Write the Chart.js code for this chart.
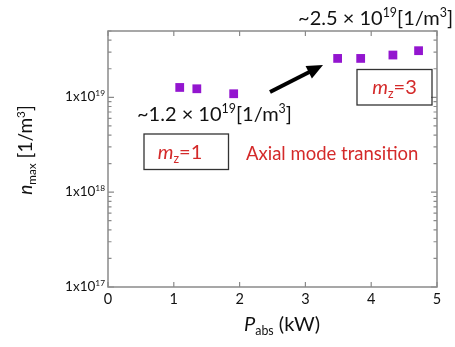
<!DOCTYPE html>
<html>
<head>
<meta charset="utf-8">
<script src="https://cdn.jsdelivr.net/npm/chart.js@4.4.0/dist/chart.umd.min.js"></script>
<style>
  html, body { margin: 0; padding: 0; background: #fff; }
  #wrap { width: 455px; height: 347px; }
</style>
</head>
<body>
<div id="wrap"><canvas id="chart" width="455" height="347"></canvas></div>
<script>
// absorbed power (kW) and peak density (1/m^3)
const power = [1.09, 1.35, 1.91, 3.49, 3.84, 4.33, 4.72];
const density = [1.27e19, 1.23e19, 1.09e19, 2.57e19, 2.57e19, 2.79e19, 3.1e19];
const xTicks = [0, 1, 2, 3, 4, 5];
const yExponents = [17, 18, 19];

const FONT = 'Lato, "Open Sans", sans-serif';
const RED = '#d42a2a';
const FRAME = '#8a8a8a';

// text with super/subscript pieces: [text, style] where style is '', 'i', 'sup', 'sub'
function richText(ctx, parts, x, y, size, align) {
    const widths = parts.map(p => {
        const s = (p[1] === 'sup' || p[1] === 'sub') ? size * 0.62 : size;
        ctx.font = `${p[1] === 'i' ? 'italic ' : ''}${s}px ${FONT}`;
        return ctx.measureText(p[0]).width;
    });
    const total = widths.reduce((a, b) => a + b, 0);
    let cx = align === 'right' ? x - total : align === 'center' ? x - total / 2 : x;
    parts.forEach((p, i) => {
        const small = p[1] === 'sup' || p[1] === 'sub';
        const s = small ? size * 0.62 : size;
        ctx.font = `${p[1] === 'i' ? 'italic ' : ''}${s}px ${FONT}`;
        let dy = 0;
        if (p[1] === 'sup') dy = -size * 0.38;
        if (p[1] === 'sub') dy = size * 0.22;
        ctx.fillText(p[0], cx, y + dy);
        cx += widths[i];
    });
}

const decorations = {
    id: 'decorations',
    afterDraw(chart) {
        const { ctx, chartArea: a, scales } = chart;
        const xs = scales.x, ys = scales.y;
        ctx.save();
        ctx.textBaseline = 'alphabetic';
        ctx.fillStyle = '#111';

        // frame
        ctx.strokeStyle = FRAME;
        ctx.lineWidth = 1.5;
        ctx.strokeRect(a.left, a.top, a.right - a.left, a.bottom - a.top);

        // x ticks top and bottom
        ctx.lineWidth = 1.2;
        xTicks.forEach(v => {
            const px = xs.getPixelForValue(v);
            ctx.beginPath();
            ctx.moveTo(px, a.bottom); ctx.lineTo(px, a.bottom - 5);
            ctx.moveTo(px, a.top); ctx.lineTo(px, a.top + 5);
            ctx.stroke();
        });

        // y ticks, majors and minors, both sides
        for (let e = 17; e <= 19; e++) {
            for (let m = 1; m <= 9; m++) {
                const v = m * Math.pow(10, e);
                if (v > ys.max * 1.0001) continue;
                const py = ys.getPixelForValue(v);
                const len = m === 1 ? 6 : 3.5;
                ctx.beginPath();
                ctx.moveTo(a.left, py); ctx.lineTo(a.left + len, py);
                ctx.moveTo(a.right, py); ctx.lineTo(a.right - len, py);
                ctx.stroke();
            }
        }

        // x tick labels
        ctx.fillStyle = '#111';
        ctx.font = `14.5px ${FONT}`;
        ctx.textAlign = 'center';
        xTicks.forEach(v => {
            ctx.fillText(String(v), xs.getPixelForValue(v), a.bottom + 17);
        });

        // y tick labels
        ctx.textAlign = 'left';
        yExponents.forEach(e => {
            const py = ys.getPixelForValue(Math.pow(10, e));
            richText(ctx, [['1x10', ''], [String(e), 'sup']], a.left - 3, py + 4, 13.5, 'right');
        });

        // axis titles
        richText(ctx, [['P', 'i'], ['abs', 'sub'], [' (kW)', '']], 282, 331, 20, 'center');
        ctx.save();
        ctx.translate(32, 150);
        ctx.rotate(-Math.PI / 2);
        richText(ctx, [['n', 'i'], ['max', 'sub'], [' [1/m', ''], ['3', 'sup'], [']', '']], 0, 0, 19, 'center');
        ctx.restore();

        // density annotations
        richText(ctx, [['~2.5 \u00d7 10', ''], ['19', 'sup'], ['[1/m', ''], ['3', 'sup'], [']', '']], 453, 25, 20, 'right');
        richText(ctx, [['~1.2 \u00d7 10', ''], ['19', 'sup'], ['[1/m', ''], ['3', 'sup'], [']', '']], 137, 121, 20, 'left');

        // mode boxes
        ctx.strokeStyle = '#333';
        ctx.lineWidth = 1.3;
        ctx.strokeRect(357, 69.5, 75, 35.5);
        ctx.strokeRect(144, 134, 84.5, 35.5);
        ctx.fillStyle = RED;
        richText(ctx, [['m', 'i'], ['z', 'sub'], ['=3', '']], 394.5, 94, 20, 'center');
        richText(ctx, [['m', 'i'], ['z', 'sub'], ['=1', '']], 180, 159, 20, 'center');
        ctx.font = `18.5px ${FONT}`;
        ctx.textAlign = 'left';
        ctx.fillText('Axial mode transition', 246, 160);

        // arrow
        const x0 = 270, y0 = 92, x1 = 323, y1 = 65;
        const ang = Math.atan2(y1 - y0, x1 - x0);
        ctx.strokeStyle = '#000';
        ctx.fillStyle = '#000';
        ctx.lineWidth = 4;
        ctx.beginPath();
        ctx.moveTo(x0, y0);
        ctx.lineTo(x1 - 12 * Math.cos(ang), y1 - 12 * Math.sin(ang));
        ctx.stroke();
        ctx.beginPath();
        ctx.moveTo(x1, y1);
        ctx.lineTo(x1 - 16 * Math.cos(ang) + 7 * Math.sin(ang), y1 - 16 * Math.sin(ang) - 7 * Math.cos(ang));
        ctx.lineTo(x1 - 16 * Math.cos(ang) - 7 * Math.sin(ang), y1 - 16 * Math.sin(ang) + 7 * Math.cos(ang));
        ctx.closePath();
        ctx.fill();

        ctx.restore();
    }
};

new Chart(document.getElementById('chart'), {
    type: 'scatter',
    data: {
        datasets: [{
            data: power.map((p, i) => ({ x: p, y: density[i] })),
            backgroundColor: '#9315cf',
            borderColor: '#9315cf',
            borderWidth: 0,
            pointStyle: 'rect',
            pointRadius: 6.2,
        }]
    },
    options: {
        responsive: false,
        animation: false,
        layout: { padding: { left: 108, right: 18, top: 31, bottom: 60 } },
        scales: {
            x: {
                type: 'linear', min: 0, max: 5,
                grid: { display: false },
                border: { display: false },
                ticks: { display: false },
                afterFit(s) { s.height = 0; },
            },
            y: {
                type: 'logarithmic', min: 1e17, max: 5e19,
                grid: { display: false },
                border: { display: false },
                ticks: { display: false },
                afterFit(s) { s.width = 0; },
            }
        },
        plugins: {
            legend: { display: false },
            tooltip: { enabled: false },
        }
    },
    plugins: [decorations]
});
</script>
</body>
</html>
